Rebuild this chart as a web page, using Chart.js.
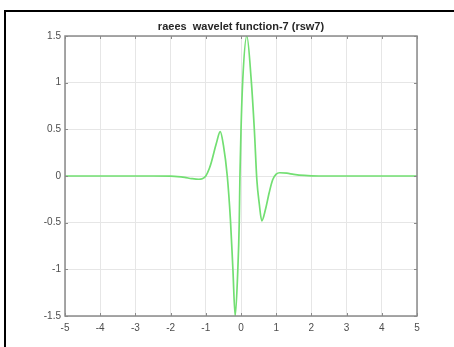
<!DOCTYPE html>
<html>
<head>
<meta charset="utf-8">
<title>rsw7</title>
<script src="https://cdn.jsdelivr.net/npm/chart.js@4/dist/chart.umd.min.js"></script>
<style>
    html, body { margin: 0; padding: 0; background: #ffffff; }
    #wrap { position: relative; width: 454px; height: 347px; overflow: hidden; }
    #frame {
        position: absolute; left: 4px; top: 10px; width: 460px; height: 400px;
        border-top: 2px solid #000; border-left: 2px solid #000;
    }
    #chart { position: absolute; left: 0; top: 0; }
</style>
</head>
<body>
<div id="wrap">
    <div id="frame"></div>
    <canvas id="chart" width="454" height="347"></canvas>
</div>
<script>
    // values
    const xValues = [-5, -4, -3, -2.5, -2, -1.8, -1.6, -1.4, -1.2, -1.1, -1.0, -0.9, -0.84, -0.7, -0.59,
        -0.5, -0.39, -0.3, -0.23, -0.165, -0.09, -0.05, -0.03, 0, 0.05, 0.165, 0.29, 0.38, 0.45,
        0.52, 0.59, 0.7, 0.8, 0.9, 1.0, 1.1, 1.3, 1.5, 1.8, 2.0, 2.5, 3, 4, 5];
    const yValues = [0, 0, 0, 0, -0.002, -0.006, -0.015, -0.028, -0.035, -0.03, 0.0, 0.08, 0.15, 0.35, 0.475,
        0.33, 0.0, -0.47, -1.0, -1.5, -1.0, -0.5, 0.0, 0.49, 1.03, 1.5, 1.03, 0.49, -0.04,
        -0.3, -0.48, -0.35, -0.18, -0.04, 0.02, 0.035, 0.03, 0.018, 0.006, 0.002, 0, 0, 0, 0];
    const xTicks = [-5, -4, -3, -2, -1, 0, 1, 2, 3, 4, 5];
    const yTicks = [-1.5, -1, -0.5, 0, 0.5, 1, 1.5];
    const titleText = 'raees  wavelet function-7 (rsw7)';

    const points = xValues.map((x, i) => ({ x: x, y: yValues[i] }));
    const FONT = 'Liberation Sans, Arial, sans-serif';

    // MATLAB-like box with inward tick marks, title centred over the axes
    const boxPlugin = {
        id: 'box',
        afterDatasetsDraw(chart) {
            const { ctx, chartArea: a, scales } = chart;
            ctx.save();
            ctx.strokeStyle = '#8a8a8a';
            ctx.lineWidth = 1;
            ctx.beginPath();
            xTicks.forEach(v => {
                const px = Math.round(scales.x.getPixelForValue(v)) + 0.5;
                ctx.moveTo(px, a.bottom); ctx.lineTo(px, a.bottom - 3);
                ctx.moveTo(px, a.top); ctx.lineTo(px, a.top + 3);
            });
            yTicks.forEach(v => {
                const py = Math.round(scales.y.getPixelForValue(v)) + 0.5;
                ctx.moveTo(a.left, py); ctx.lineTo(a.left + 3, py);
                ctx.moveTo(a.right, py); ctx.lineTo(a.right - 3, py);
            });
            ctx.stroke();
            ctx.lineWidth = 1.5;
            ctx.strokeRect(a.left, a.top, a.right - a.left, a.bottom - a.top);

            ctx.fillStyle = '#262626';
            ctx.font = 'bold 11px ' + FONT;
            ctx.textAlign = 'center';
            ctx.textBaseline = 'middle';
            ctx.fillText(titleText, (a.left + a.right) / 2, 27);
            ctx.restore();
        }
    };

    new Chart(document.getElementById('chart').getContext('2d'), {
        type: 'line',
        data: {
            datasets: [{
                data: points,
                borderColor: '#72df72',
                borderWidth: 1.7,
                pointRadius: 0,
                fill: false,
                cubicInterpolationMode: 'monotone'
            }]
        },
        options: {
            responsive: false,
            animation: false,
            layout: { padding: { left: 0, right: 37, top: 36, bottom: 0 } },
            plugins: {
                legend: { display: false },
                tooltip: { enabled: false },
                title: { display: false }
            },
            scales: {
                x: {
                    type: 'linear',
                    min: -5,
                    max: 5,
                    afterFit: s => { s.height = 31; },
                    afterBuildTicks: s => { s.ticks = xTicks.map(v => ({ value: v })); },
                    grid: { color: '#e6e6e6', drawTicks: false },
                    border: { display: false },
                    ticks: {
                        color: '#4d4d4d',
                        padding: 6,
                        font: { family: FONT, size: 10 },
                        callback: v => String(v)
                    }
                },
                y: {
                    type: 'linear',
                    min: -1.5,
                    max: 1.5,
                    afterFit: s => { s.width = 65; },
                    afterBuildTicks: s => { s.ticks = yTicks.map(v => ({ value: v })); },
                    grid: { color: '#e6e6e6', drawTicks: false },
                    border: { display: false },
                    ticks: {
                        color: '#4d4d4d',
                        padding: 4,
                        font: { family: FONT, size: 10 },
                        callback: v => String(v)
                    }
                }
            }
        },
        plugins: [boxPlugin]
    });
</script>
</body>
</html>
